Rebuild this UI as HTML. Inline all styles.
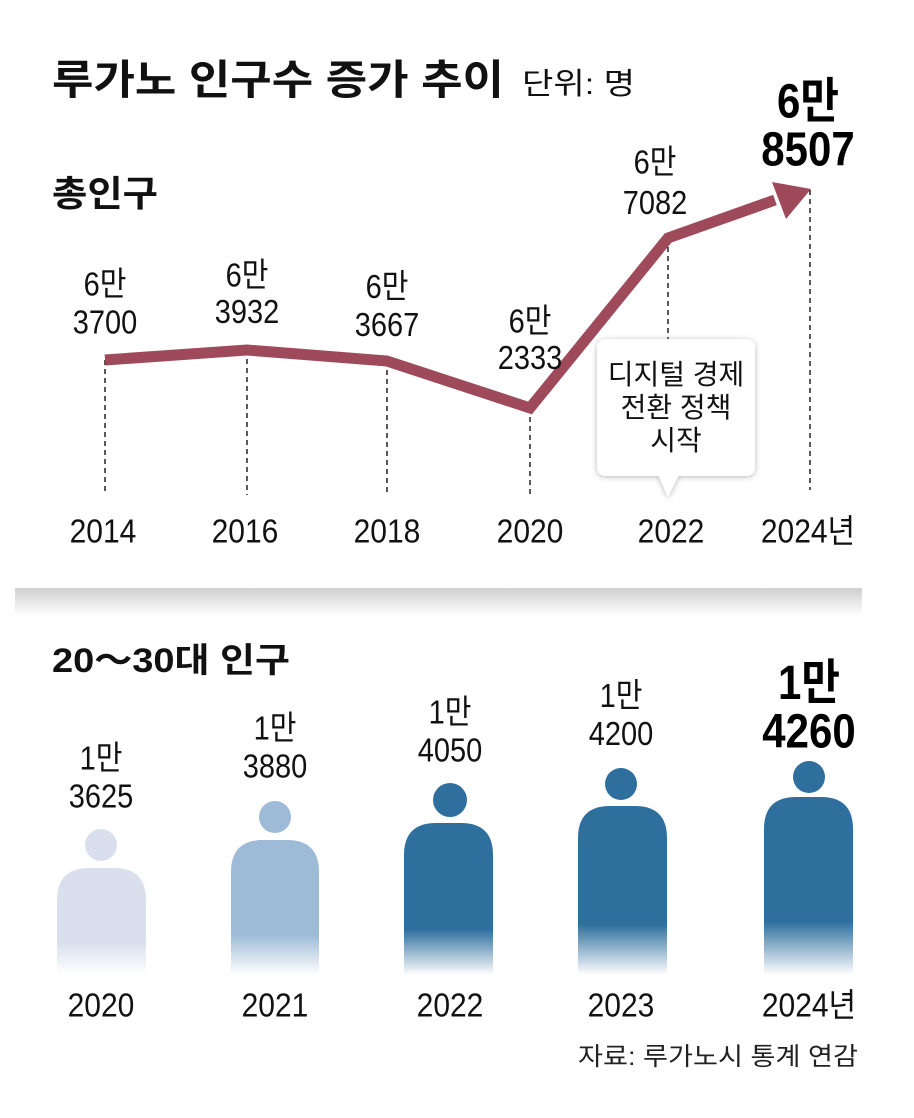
<!DOCTYPE html>
<html><head><meta charset="utf-8"><style>
body{margin:0;background:#fff;}
svg text{font-family:"Liberation Sans","Noto Sans CJK KR",sans-serif;}
</style></head><body>
<svg width="914" height="1113" viewBox="0 0 914 1113" xmlns="http://www.w3.org/2000/svg">
<defs>
<linearGradient id="band" x1="0" y1="0" x2="0" y2="1"><stop offset="0" stop-color="#cfcfcf"/><stop offset="1" stop-color="#fff"/></linearGradient>
<linearGradient id="f1" x1="0" y1="0" x2="0" y2="1"><stop offset="0.7" stop-color="#d9dfec"/><stop offset="1" stop-color="#d9dfec" stop-opacity="0"/></linearGradient>
<linearGradient id="f2" x1="0" y1="0" x2="0" y2="1"><stop offset="0.7" stop-color="#9dbad6"/><stop offset="1" stop-color="#9dbad6" stop-opacity="0"/></linearGradient>
<linearGradient id="f3" x1="0" y1="0" x2="0" y2="1"><stop offset="0.7" stop-color="#2e6f9e"/><stop offset="1" stop-color="#2e6f9e" stop-opacity="0"/></linearGradient>
<filter id="sh"><feDropShadow dx="0" dy="1" stdDeviation="3" flood-color="#888" flood-opacity="0.6"/></filter>
</defs>
<text x="52" y="94" font-size="41" font-weight="bold" fill="#111" textLength="452" lengthAdjust="spacingAndGlyphs">루가노 인구수 증가 추이</text>
<text x="522" y="94" font-size="30" fill="#111" textLength="113" lengthAdjust="spacingAndGlyphs">단위: 명</text>
<text x="52" y="206" font-size="36" font-weight="bold" fill="#111" textLength="106" lengthAdjust="spacingAndGlyphs">총인구</text>
<g stroke="#000" stroke-width="1.3" stroke-dasharray="5,4">
<line x1="105" y1="360" x2="105" y2="495"/><line x1="247" y1="350" x2="247" y2="495"/><line x1="387" y1="361" x2="387" y2="495"/><line x1="530" y1="408" x2="530" y2="495"/><line x1="668" y1="238" x2="668" y2="345"/><line x1="810" y1="190" x2="810" y2="490"/>
</g>
<polyline points="105,360 247,350 387,361 530,408 668,238 775,200" fill="none" stroke="#9e4a5a" stroke-width="11" stroke-linejoin="miter"/>
<polygon points="811,189 786,219 772,182" fill="#9e4a5a"/>
<g font-size="29" fill="#111" text-anchor="middle" transform="scale(1,1.15)">
<text x="105" y="257">6만</text><text x="105" y="290">3700</text>
<text x="247" y="249">6만</text><text x="247" y="281">3932</text>
<text x="387" y="259">6만</text><text x="387" y="292">3667</text>
<text x="530" y="289">6만</text><text x="530" y="321">2333</text>
<text x="655" y="151">6만</text><text x="655" y="186">7082</text>
</g>
<g font-size="42" font-weight="bold" fill="#000" text-anchor="middle" transform="scale(1,1.15)">
<text x="808" y="102">6만</text><text x="808" y="144">8507</text>
</g>
<g filter="url(#sh)"><rect x="597" y="339" width="158" height="137" rx="8" fill="#fff"/><polygon points="658,475 679,475 668,497" fill="#fff"/></g>
<g font-size="28" fill="#111" text-anchor="middle"><text x="676" y="384">디지털 경제</text><text x="676" y="417">전환 정책</text><text x="676" y="450">시작</text></g>
<g font-size="30" fill="#111" text-anchor="middle" transform="scale(1,1.1)">
<text x="103" y="493">2014</text><text x="245" y="493">2016</text><text x="387" y="493">2018</text><text x="530" y="493">2020</text><text x="671" y="493">2022</text><text x="808" y="493">2024년</text>
</g>
<rect x="15" y="588" width="847" height="28" fill="url(#band)"/>
<text x="52" y="672" font-size="34" font-weight="bold" fill="#111" textLength="238" lengthAdjust="spacingAndGlyphs">20～30대 인구</text>
<g font-size="29" fill="#111" text-anchor="middle" transform="scale(1,1.15)">
<text x="101" y="669">1만</text><text x="101" y="702">3625</text>
<text x="275" y="643">1만</text><text x="275" y="676">3880</text>
<text x="450" y="629">1만</text><text x="450" y="662">4050</text>
<text x="621" y="615">1만</text><text x="621" y="648">4200</text>
</g>
<g font-size="42" font-weight="bold" fill="#000" text-anchor="middle" transform="scale(1,1.15)"><text x="809" y="608">1만</text><text x="809" y="650">4260</text></g>
<circle cx="101" cy="845" r="16" fill="#d9dfec"/><path d="M57,975 V900 Q57,868 89,868 H114 Q146,868 146,900 V975Z" fill="url(#f1)"/>
<circle cx="275" cy="817" r="16" fill="#9dbad6"/><path d="M231,975 V872 Q231,840 263,840 H287 Q319,840 319,872 V975Z" fill="url(#f2)"/>
<circle cx="450" cy="800" r="17" fill="#2e6f9e"/><path d="M404,975 V855 Q404,823 436,823 H461 Q493,823 493,855 V975Z" fill="url(#f3)"/>
<circle cx="621" cy="784" r="16" fill="#2e6f9e"/><path d="M578,975 V838 Q578,806 610,806 H635 Q667,806 667,838 V975Z" fill="url(#f3)"/>
<circle cx="809" cy="777" r="16" fill="#2e6f9e"/><path d="M764,975 V829 Q764,797 796,797 H821 Q853,797 853,829 V975Z" fill="url(#f3)"/>
<g font-size="30" fill="#111" text-anchor="middle" transform="scale(1,1.1)">
<text x="101" y="924">2020</text><text x="275" y="924">2021</text><text x="450" y="924">2022</text><text x="621" y="924">2023</text><text x="809" y="924">2024년</text>
</g>
<text x="858" y="1065" font-size="25" fill="#222" text-anchor="end" textLength="280" lengthAdjust="spacingAndGlyphs">자료: 루가노시 통계 연감</text>
</svg>
</body></html>
